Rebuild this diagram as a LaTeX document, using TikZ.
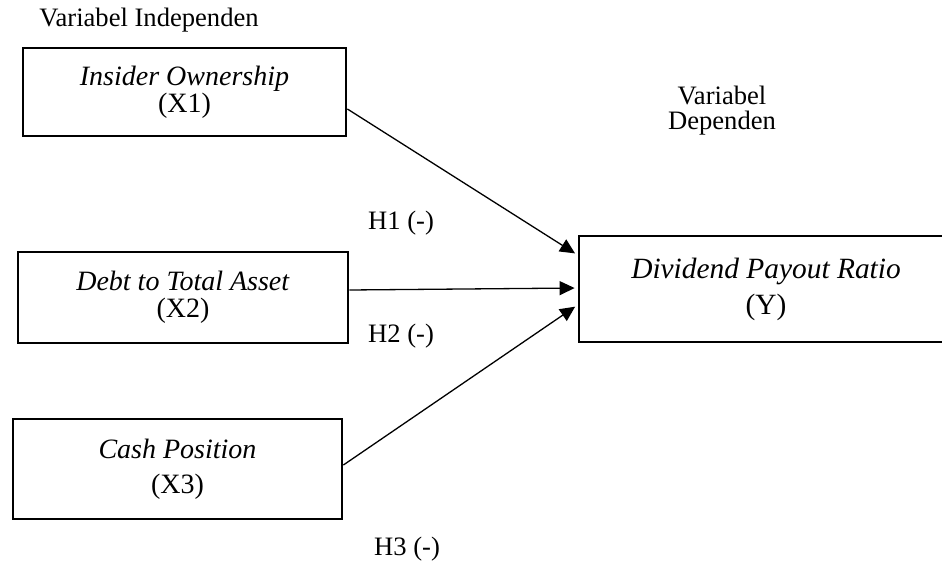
\documentclass[tikz,border=0pt]{standalone}
\usepackage{fontspec}
\setmainfont{Liberation Serif}
\usetikzlibrary{arrows.meta, positioning}

\begin{document}
\begin{tikzpicture}[
    x=0.5pt, y=-0.5pt,
    box/.style={draw, line width=1.4pt, align=center, font=\fontsize{14}{13.5}\selectfont},
    lbl/.style={font=\fontsize{13.3}{12.5}\selectfont, align=center},
    arrow/.style={-{Triangle[length=7.5pt, width=7pt]}, line width=0.65pt, shorten >=1.5pt}
]
    \useasboundingbox (0,0) rectangle (942,567);

    \node[box, minimum width=161.5pt, minimum height=44pt] (x1) at (184.5,92) {\textit{Insider Ownership}\\(X1)};
    \node[box, minimum width=165pt, minimum height=45.5pt] (x2) at (183,297.5) {\textit{Debt to Total Asset}\\(X2)};
    \node[box, minimum width=164.5pt, minimum height=50pt] (x3) at (177.5,469) {\textit{Cash Position}\\[4pt](X3)};
    \node[box, minimum width=187pt, minimum height=53pt, font=\fontsize{14.7}{14}\selectfont] (y) at (766,289) {\textit{Dividend Payout Ratio}\\[4pt](Y)};

    \draw[arrow] ([yshift=-8.5pt]x1.east) -- ([yshift=17pt]y.west);
    \draw[arrow] ([yshift=3.75pt]x2.east) -- ([yshift=0.5pt]y.west);
    \draw[arrow] ([yshift=2pt]x3.east) -- ([yshift=-8pt]y.west);

    \node[lbl, anchor=base] (indep) at (149,27) {Variabel Independen};
    \node[lbl] (dep) at (722,111) {Variabel\\Dependen};
    \node[lbl, anchor=base] (h1) at (401,229) {H1 (-)};
    \node[lbl, anchor=base] (h2) at (401,342) {H2 (-)};
    \node[lbl, anchor=base] (h3) at (407,555) {H3 (-)};
\end{tikzpicture}
\end{document}
